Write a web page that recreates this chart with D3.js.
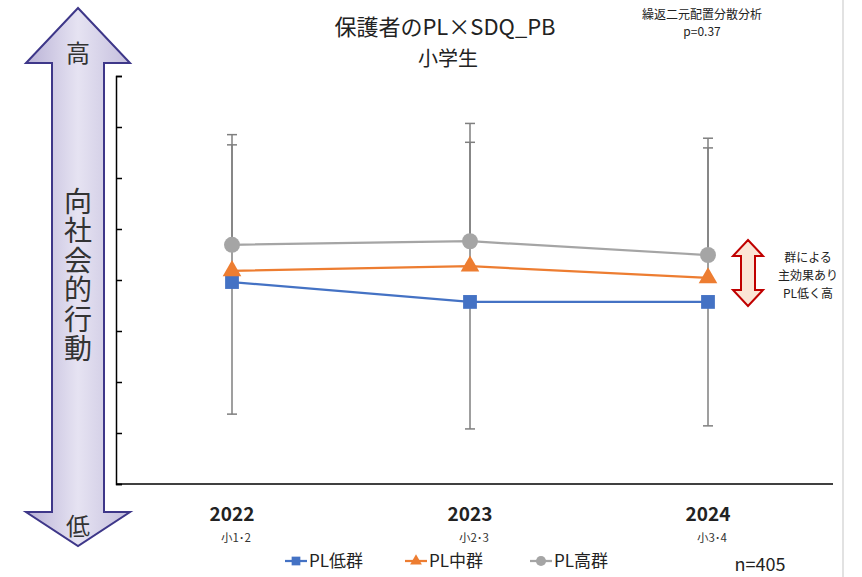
<!DOCTYPE html>
<html>
<head>
<meta charset="utf-8">
<script src="https://cdn.jsdelivr.net/npm/d3@7"></script>
<style>
  html, body { margin: 0; padding: 0; background: #fff; }
  svg { display: block; }
  text { font-family: "Noto Sans CJK JP", "Noto Sans", sans-serif; }
</style>
</head>
<body>
<svg id="chart" width="862" height="577"></svg>
<script>
// ---- data ----
const years = ["2022", "2023", "2024"];
const grades = ["小1･2", "小2･3", "小3･4"];
const seriesNames = ["PL低群", "PL中群", "PL高群"];
const lowValues = [5.96, 5.57, 5.57];
const midValues = [6.18, 6.27, 6.04];
const highValues = [6.69, 6.76, 6.49];
const lowSD = [2.59, 2.49, 2.43];
const midSD = [2.47, 2.43, 2.55];
const highSD = [2.16, 2.31, 2.29];
const yTicks = [2, 3, 4, 5, 6, 7, 8, 9, 10];
const title = "保護者のPL×SDQ_PB";
const subtitle = "小学生";
const testName = "繰返二元配置分散分析";
const pText = "p=0.37";
const yLabel = "向社会的行動";
const effectNote = ["群による", "主効果あり", "PL低く高"];
const nText = "n=405";

const svg = d3.select("#chart");
const defs = svg.append("defs");

// page edge line at right
svg.append("line").attr("x1", 843).attr("x2", 843).attr("y1", 0).attr("y2", 577)
  .attr("stroke", "#d9d9d9").attr("stroke-width", 1.5);

// scales
const x = d3.scalePoint().domain(years).range([232, 708]);
const y = d3.scaleLinear().domain([2, 10]).range([484, 76]);

// axes
svg.append("g").attr("transform", "translate(116,0)")
  .call(d3.axisLeft(y).tickValues(yTicks).tickSize(-6).tickFormat(""))
  .call(g => g.select(".domain").attr("stroke", "#000").attr("stroke-width", 1.5))
  .call(g => g.selectAll(".tick line").attr("stroke", "#000").attr("stroke-width", 1.5));
svg.append("line").attr("x1", 116).attr("x2", 833).attr("y1", y(2)).attr("y2", y(2))
  .attr("stroke", "#000").attr("stroke-width", 1.5);

// x labels
years.forEach((yr, i) => {
  svg.append("text").attr("x", x(yr)).attr("y", 521).attr("text-anchor", "middle")
    .attr("font-size", 19).attr("font-weight", 700).attr("fill", "#222").text(yr);
  svg.append("text").attr("x", x(yr) + 4).attr("y", 542).attr("text-anchor", "middle")
    .attr("font-size", 11.5).attr("fill", "#333").text(grades[i]);
});

const series = [
  { name: seriesNames[0], values: lowValues, sd: lowSD, dir: -1, color: "#4472C4", shape: "square" },
  { name: seriesNames[1], values: midValues, sd: midSD, dir: 1, color: "#ED7D31", shape: "triangle" },
  { name: seriesNames[2], values: highValues, sd: highSD, dir: 1, color: "#A5A5A5", shape: "circle" }
];

// error bars
const eb = svg.append("g");
series.forEach(s => {
  s.values.forEach((v, i) => {
    const end = v + s.dir * s.sd[i];
    const cx = x(years[i]);
    eb.append("line").attr("x1", cx).attr("x2", cx).attr("y1", y(v)).attr("y2", y(end))
      .attr("stroke", "#7f7f7f").attr("stroke-width", 1.5);
    eb.append("line").attr("x1", cx - 5).attr("x2", cx + 5).attr("y1", y(end)).attr("y2", y(end))
      .attr("stroke", "#7f7f7f").attr("stroke-width", 1.5);
  });
});

// lines
const line = d3.line().x((d, i) => x(years[i])).y(d => y(d));
series.forEach(s => {
  svg.append("path").datum(s.values).attr("d", line)
    .attr("fill", "none").attr("stroke", s.color).attr("stroke-width", 2.25);
});

// markers
const symbolType = { square: d3.symbolSquare, triangle: d3.symbolTriangle, circle: d3.symbolCircle };
const symbolSize = { square: 190, triangle: 150, circle: 200 };
series.forEach(s => {
  const gen = d3.symbol().type(symbolType[s.shape]).size(symbolSize[s.shape]);
  s.values.forEach((v, i) => {
    svg.append("path").attr("d", gen)
      .attr("transform", `translate(${x(years[i])},${y(v)})`)
      .attr("fill", s.color);
  });
});

// titles
svg.append("text").attr("x", 445).attr("y", 35).attr("text-anchor", "middle")
  .attr("font-size", 22).attr("fill", "#222").text(title);
svg.append("text").attr("x", 448).attr("y", 66).attr("text-anchor", "middle")
  .attr("font-size", 20).attr("fill", "#222").text(subtitle);
svg.append("text").attr("x", 702).attr("y", 19).attr("text-anchor", "middle")
  .attr("font-size", 12).attr("fill", "#222").text(testName);
svg.append("text").attr("x", 702).attr("y", 36).attr("text-anchor", "middle")
  .attr("font-size", 12).attr("fill", "#222").text(pText);

// big left double arrow
const grad = defs.append("linearGradient").attr("id", "arrowGrad")
  .attr("x1", "0%").attr("x2", "100%").attr("y1", "0%").attr("y2", "0%");
grad.append("stop").attr("offset", "0%").attr("stop-color", "#b9b2d6");
grad.append("stop").attr("offset", "50%").attr("stop-color", "#e6e3f2");
grad.append("stop").attr("offset", "100%").attr("stop-color", "#c4bedd");
const ax = 78;
const arrowPts = [
  [ax, 8], [ax + 52, 63], [ax + 26, 63], [ax + 26, 512], [ax + 52, 512],
  [ax, 546], [ax - 52, 512], [ax - 26, 512], [ax - 26, 63], [ax - 52, 63]
];
svg.append("path").attr("d", d3.line()(arrowPts) + "Z")
  .attr("fill", "url(#arrowGrad)").attr("stroke", "#3e3789").attr("stroke-width", 2)
  .attr("stroke-linejoin", "miter");
svg.append("text").attr("x", ax).attr("y", 62).attr("text-anchor", "middle")
  .attr("font-size", 24).attr("fill", "#333").text("高");
svg.append("text").attr("x", ax).attr("y", 535).attr("text-anchor", "middle")
  .attr("font-size", 24).attr("fill", "#333").text("低");
svg.append("text").attr("x", ax).attr("y", 187)
  .attr("font-size", 28).attr("fill", "#333")
  .style("writing-mode", "vertical-rl").style("text-orientation", "upright")
  .attr("letter-spacing", 1.5)
  .text(yLabel);

// right small double arrow
const rx = 748;
const rPts = [
  [rx, 240], [rx + 15, 256], [rx + 7, 256], [rx + 7, 290], [rx + 15, 290],
  [rx, 306], [rx - 15, 290], [rx - 7, 290], [rx - 7, 256], [rx - 15, 256]
];
svg.append("path").attr("d", d3.line()(rPts) + "Z")
  .attr("fill", "#fbe5d6").attr("stroke", "#c00000").attr("stroke-width", 2);
effectNote.forEach((t, i) => {
  svg.append("text").attr("x", 808).attr("y", 262 + i * 18).attr("text-anchor", "middle")
    .attr("font-size", 12).attr("fill", "#222").text(t);
});

// legend
const legendX = [285, 405, 530];
series.forEach((s, i) => {
  const lx = legendX[i], ly = 561;
  svg.append("line").attr("x1", lx).attr("x2", lx + 22).attr("y1", ly).attr("y2", ly)
    .attr("stroke", s.color).attr("stroke-width", 2.25);
  const gen = d3.symbol().type(symbolType[s.shape]).size(symbolSize[s.shape] * 0.4);
  svg.append("path").attr("d", gen).attr("transform", `translate(${lx + 11},${ly})`).attr("fill", s.color);
  svg.append("text").attr("x", lx + 24).attr("y", ly + 6).attr("font-size", 17)
    .attr("fill", "#222").text(s.name);
});

svg.append("text").attr("x", 760).attr("y", 571).attr("text-anchor", "middle")
  .attr("font-size", 18).attr("fill", "#222").text(nText);
</script>
</body>
</html>
